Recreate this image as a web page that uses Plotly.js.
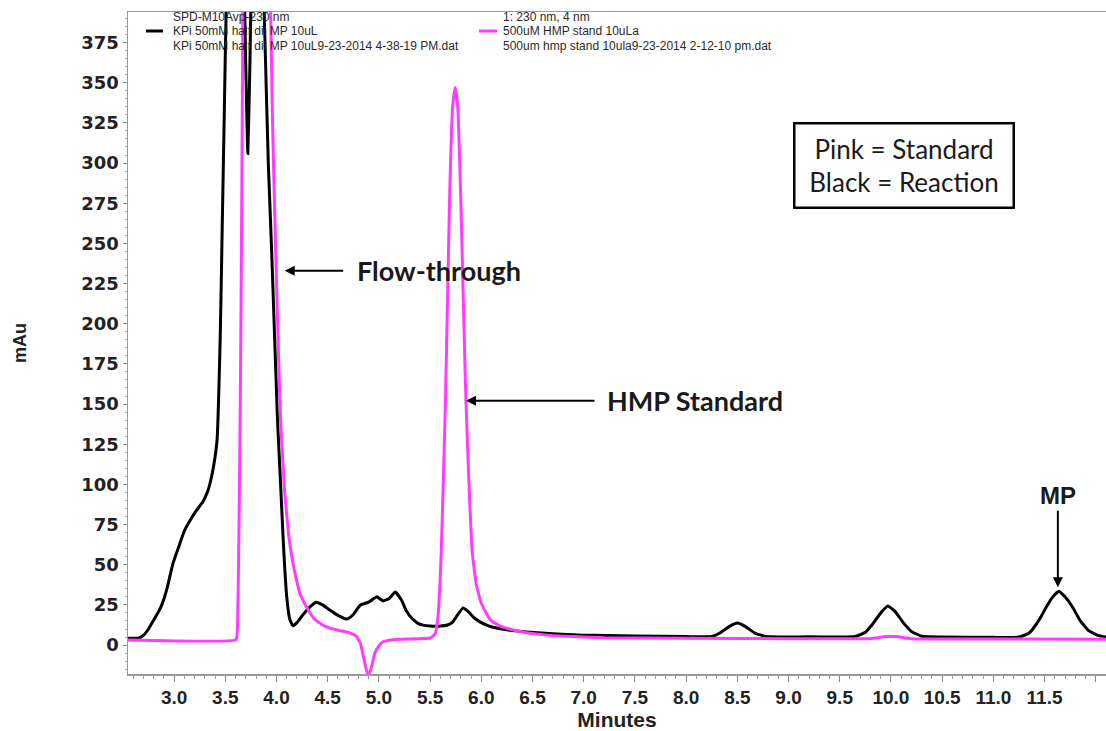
<!DOCTYPE html>
<html>
<head>
<meta charset="utf-8">
<script src="https://cdn.plot.ly/plotly-3.0.1.min.js"></script>
<style>html,body{margin:0;padding:0;background:#fff;}#chart{width:1106px;height:731px;}</style>
</head>
<body>
<div id="chart"></div>
<script>
// Reaction (black) chromatogram: time (min) and absorbance (mAu)
const reactionTime = [2.55,2.65,2.70,2.75,2.80,2.85,2.88,2.93,2.99,3.05,3.10,3.16,3.22,3.28,3.33,3.37,3.40,3.42,3.45,3.47,3.49,3.51,3.56,3.62,3.67,3.70,3.72,3.74,3.77,3.82,3.86,3.89,3.92,3.95,3.98,4.01,4.04,4.07,4.10,4.13,4.16,4.20,4.26,4.33,4.39,4.45,4.52,4.60,4.69,4.75,4.82,4.90,4.98,5.04,5.10,5.16,5.22,5.27,5.32,5.38,5.43,5.50,5.60,5.67,5.72,5.77,5.82,5.87,5.93,5.99,6.07,6.15,6.30,6.48,6.70,6.96,7.50,8.00,8.25,8.33,8.42,8.50,8.58,8.67,8.78,9.00,9.20,9.50,9.65,9.75,9.82,9.90,9.97,10.04,10.12,10.20,10.30,10.50,11.00,11.25,11.35,11.45,11.52,11.58,11.64,11.70,11.77,11.85,11.93,12.02,12.10];
const reactionMAu  = [4.3,4.3,6,10,15.5,21,25,35,51,62,71,78,84,89,96,106,117,128,190,260,330,400,480,500,450,360,306,360,460,500,440,370,300,250,195,140,100,60,30,16,12,14,19,24,26.7,25,21.8,18.5,16.2,19,24.9,26.7,30,27.5,29,33,28,21,16.8,13.5,12.4,11.8,11.8,12.5,14.3,19,23,21,17,14.3,12,10.6,9,8,7,6.2,5.7,5.3,5.3,7.5,11.5,13.7,11.5,7.5,5.3,5,5.2,5,5.3,8,13,20,24.3,21,14,8.5,5.5,5,4.8,5,7.5,16,24,30,33.5,30,24,15,9,6,5];

// HMP standard (pink) chromatogram
const standardTime = [2.55,3.60,3.615,3.625,3.635,3.645,3.655,3.665,3.675,3.75,3.85,3.93,3.96,3.99,4.02,4.04,4.08,4.12,4.15,4.19,4.23,4.30,4.36,4.44,4.52,4.62,4.72,4.78,4.82,4.85,4.88,4.90,4.93,4.96,5.00,5.04,5.10,5.21,5.50,5.55,5.58,5.61,5.65,5.69,5.72,5.745,5.77,5.80,5.83,5.85,5.88,5.91,5.95,6.00,6.09,6.20,6.38,6.60,6.90,7.20,8.00,9.00,9.80,9.95,10.05,10.20,11.00,12.10];
const standardMAu  = [3.2,3.2,6,30,80,140,220,320,420,620,620,440,330,250,180,140,95,68,55,42,32,23,17,13,10.5,9,7.5,5.5,1,-7.5,-16,-19,-13,-5,-0.5,2,3,3.7,4.4,7,20,60,152,277,335,347,335,277,200,152,100,59,38,26,15.5,11.5,8.5,6.5,5.3,4.6,4.2,4,4,5.3,5.3,4,3.8,3.6];

const xTickLabels = ['3.0','3.5','4.0','4.5','5.0','5.5','6.0','6.5','7.0','7.5','8.0','8.5','9.0','9.5','10.0','10.5','11.0','11.5','12.0'];
const xTickValues = [3.0,3.5,4.0,4.5,5.0,5.5,6.0,6.5,7.0,7.5,8.0,8.5,9.0,9.5,10.0,10.5,11.0,11.5,12.0];
const yTickValues = [0,25,50,75,100,125,150,175,200,225,250,275,300,325,350,375];

const reactionLegend = ['SPD-M10Avp-230 nm', 'KPi 50mM half dil MP 10uL', 'KPi 50mM half dil MP 10uL9-23-2014 4-38-19 PM.dat'];
const standardLegend = ['1: 230 nm, 4 nm', '500uM HMP stand 10uLa', '500um hmp stand 10ula9-23-2014 2-12-10 pm.dat'];

const W = 1106, H = 731, mL = 128, mT = 12, mR = 0, mB = 57;
const pw = W - mL - mR, ph = H - mT - mB;
const px = v => (v - mL) / pw;
const py = v => 1 - (v - mT) / ph;

const traces = [
  {x: reactionTime, y: reactionMAu, type: 'scatter', mode: 'lines', name: 'Reaction',
   line: {color: '#000000', width: 3, shape: 'spline', smoothing: 0.4}, hoverinfo: 'skip'},
  {x: standardTime, y: standardMAu, type: 'scatter', mode: 'lines', name: 'Standard',
   line: {color: '#ff3cff', width: 3, shape: 'spline', smoothing: 0.4}, hoverinfo: 'skip'}
];

const legFont = {family: 'Liberation Sans, Arial, sans-serif', size: 12, color: '#2a2a2a'};
const calloutFont = {family: 'Lato, Open Sans, sans-serif', size: 27, color: '#1a1a1a', weight: 'bold'};

const annotations = [];
const legendRows = [17, 31.5, 46];
reactionLegend.forEach((t, i) => annotations.push({xref: 'paper', yref: 'paper', x: px(171), y: py(legendRows[i]),
  xanchor: 'left', yanchor: 'middle', showarrow: false, text: t, font: legFont}));
standardLegend.forEach((t, i) => annotations.push({xref: 'paper', yref: 'paper', x: px(501), y: py(legendRows[i]),
  xanchor: 'left', yanchor: 'middle', showarrow: false, text: t, font: legFont}));

annotations.push(
  // Flow-through callout
  {x: 4.08, y: 233, xref: 'x', yref: 'y', text: '', showarrow: true, ax: 60, ay: 0,
   arrowhead: 2, arrowsize: 1, arrowwidth: 2, arrowcolor: '#000'},
  {x: 4.77, y: 233, xref: 'x', yref: 'y', text: 'Flow-through', showarrow: false, xanchor: 'left', yanchor: 'middle', font: calloutFont},
  // HMP Standard callout
  {x: 5.85, y: 152, xref: 'x', yref: 'y', text: '', showarrow: true, ax: 130, ay: 0,
   arrowhead: 2, arrowsize: 1, arrowwidth: 2, arrowcolor: '#000'},
  {x: 7.21, y: 152, xref: 'x', yref: 'y', text: 'HMP Standard', showarrow: false, xanchor: 'left', yanchor: 'middle', font: calloutFont},
  // MP callout
  {x: 11.63, y: 36, xref: 'x', yref: 'y', text: '', showarrow: true, ax: 0, ay: -78,
   arrowhead: 2, arrowsize: 1, arrowwidth: 2, arrowcolor: '#000'},
  {x: 11.63, y: 93, xref: 'x', yref: 'y', text: 'MP', showarrow: false, xanchor: 'center', yanchor: 'middle',
   font: {family: 'Liberation Sans, Arial, sans-serif', size: 24, color: '#1a1a1a', weight: 'bold'}},
  // Colour key box
  {xref: 'paper', yref: 'paper', x: px(904), y: py(165), xanchor: 'center', yanchor: 'middle', showarrow: false,
   text: 'Pink = Standard<br>Black = Reaction', align: 'center', bgcolor: '#ffffff', bordercolor: '#000', borderwidth: 2.5,
   width: 215, height: 80, borderpad: 1, font: {family: 'Lato, Open Sans, sans-serif', size: 26, color: '#1a1a1a'}}
);

const shapes = [
  {type: 'line', xref: 'paper', yref: 'paper', x0: px(146), x1: px(163), y0: py(31), y1: py(31), line: {color: '#000', width: 3}},
  {type: 'line', xref: 'paper', yref: 'paper', x0: px(479), x1: px(497), y0: py(31), y1: py(31), line: {color: '#ff3cff', width: 3}}
];

const layout = {
  width: W, height: H,
  margin: {l: mL, r: mR, t: mT, b: mB, pad: 0},
  paper_bgcolor: '#ffffff', plot_bgcolor: '#ffffff',
  showlegend: false,
  xaxis: {
    range: [2.55, 12.1], tickmode: 'array', tickvals: xTickValues, ticktext: xTickLabels,
    ticks: 'outside', ticklen: 6, tickwidth: 1, tickcolor: '#888',
    showline: true, linecolor: '#999', linewidth: 1.5, mirror: true,
    showgrid: false, zeroline: false,
    minor: {dtick: 0.1, tick0: 3.0, ticks: 'outside', ticklen: 3, tickcolor: '#999', showgrid: false},
    tickfont: {family: 'Liberation Sans Narrow, Liberation Sans, Arial, sans-serif', size: 19, color: '#222', weight: 'bold'},
    title: {text: 'Minutes', standoff: 6, font: {family: 'Liberation Sans Narrow, Liberation Sans, Arial, sans-serif', size: 21, color: '#222', weight: 'bold'}}
  },
  yaxis: {
    range: [-18, 394], tickmode: 'array', tickvals: yTickValues,
    ticks: 'outside', ticklen: 4, tickwidth: 1, tickcolor: '#888',
    showline: true, linecolor: '#999', linewidth: 1.5, mirror: false,
    showgrid: false, zeroline: false,
    minor: {dtick: 5, tick0: 0, ticks: 'outside', ticklen: 2, tickcolor: '#aaa', showgrid: false},
    tickfont: {family: 'DejaVu Sans, Liberation Sans, sans-serif', size: 18, color: '#222', weight: 'bold'},
    title: {text: 'mAu', standoff: 50, font: {family: 'Liberation Sans, Arial, sans-serif', size: 18, color: '#222', weight: 'bold'}}
  },
  annotations: annotations,
  shapes: shapes
};

Plotly.newPlot('chart', traces, layout, {staticPlot: true, displayModeBar: false});
</script>
</body>
</html>
